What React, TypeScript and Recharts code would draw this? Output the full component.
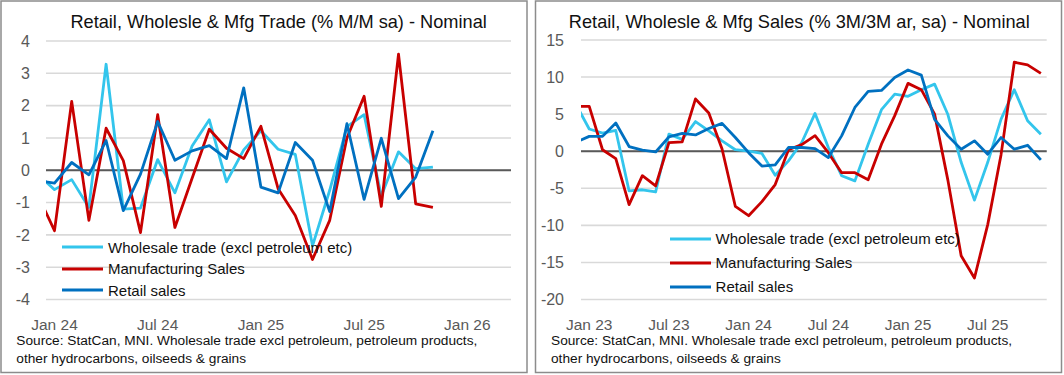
import React from 'react';
import { LineChart, Line, XAxis, YAxis, CartesianGrid, ReferenceLine, Legend } from 'recharts';

// % M/M sa, Dec 23 (clipped) .. Nov 25
const mmMonths = [
  'Dec 23', 'Jan 24', 'Feb 24', 'Mar 24', 'Apr 24', 'May 24', 'Jun 24', 'Jul 24', 'Aug 24', 'Sep 24', 'Oct 24', 'Nov 24',
  'Dec 24', 'Jan 25', 'Feb 25', 'Mar 25', 'Apr 25', 'May 25', 'Jun 25', 'Jul 25', 'Aug 25', 'Sep 25', 'Oct 25', 'Nov 25',
];
const mmWholesale = [-0.12, -0.6, -0.29, -1.15, 3.28, -1.2, -1.17, 0.33, -0.7, 0.75, 1.56, -0.36, 0.63, 1.22, 0.65, 0.49, -2.34, -0.62, 1.35, 1.72, -0.8, 0.57, 0.05, 0.1];
const mmMfg = [-0.73, -1.87, 2.13, -1.55, 1.3, 0.3, -1.93, 1.72, -1.77, -0.25, 1.27, 0.68, 0.36, 1.36, -0.57, -1.4, -2.76, -1.55, 1.0, 2.29, -1.12, 3.59, -1.04, -1.15];
const mmRetail = [-0.32, -0.4, 0.24, -0.14, 0.92, -1.25, -0.12, 1.51, 0.31, 0.6, 0.76, 0.36, 2.55, -0.52, -0.7, 0.86, 0.31, -1.28, 1.44, -0.9, 0.99, -0.88, -0.21, 1.22];
const mmXTicks = [0, 6, 12, 18, 24];
const mmXLabels = ['Jan 24', 'Jul 24', 'Jan 25', 'Jul 25', 'Jan 26'];
const mmYTicks = [-4, -3, -2, -1, 0, 1, 2, 3, 4];

// % 3M/3M ar, sa, Dec 22 (clipped) .. Nov 25
const arMonths = [
  'Dec 22', 'Jan 23', 'Feb 23', 'Mar 23', 'Apr 23', 'May 23', 'Jun 23', 'Jul 23', 'Aug 23', 'Sep 23', 'Oct 23', 'Nov 23',
  'Dec 23', 'Jan 24', 'Feb 24', 'Mar 24', 'Apr 24', 'May 24', 'Jun 24', 'Jul 24', 'Aug 24', 'Sep 24', 'Oct 24', 'Nov 24',
  'Dec 24', 'Jan 25', 'Feb 25', 'Mar 25', 'Apr 25', 'May 25', 'Jun 25', 'Jul 25', 'Aug 25', 'Sep 25', 'Oct 25', 'Nov 25',
];
const arWholesale = [6.3, 3.0, 2.45, 2.8, -5.36, -5.2, -5.5, 2.3, 1.6, 4.0, 2.75, 1.4, 0.2, 0.0, -0.3, -3.25, -1.3, 1.17, 5.1, 0.5, -3.3, -4.0, 0.95, 5.6, 7.7, 7.4, 8.3, 9.05, 4.95, -1.5, -6.6, -1.5, 4.3, 8.3, 4.1, 2.3];
const arMfg = [6.04, 6.04, 0.2, -1.0, -7.2, -3.3, -4.68, 1.17, 1.26, 7.05, 5.15, 0.3, -7.45, -8.7, -6.8, -4.5, 0.2, 0.9, 2.1, -0.2, -2.9, -2.9, -3.85, 0.95, 4.8, 9.15, 8.3, 5.0, -3.9, -14.1, -17.1, -9.9, -0.5, 12.0, 11.65, 10.5];
const arRetail = [1.2, 2.0, 2.0, 3.8, 0.63, 0.14, -0.1, 1.94, 2.4, 2.2, 3.06, 3.75, 1.85, -0.2, -2.0, -1.85, 0.5, 0.5, 0.36, -0.86, 2.07, 5.9, 8.06, 8.2, 9.95, 10.95, 10.27, 4.3, 2.07, 0.27, 1.4, -0.4, 1.85, 0.27, 0.8, -1.17];
const arXTicks = [0, 6, 12, 18, 24, 30];
const arXLabels = ['Jan 23', 'Jul 23', 'Jan 24', 'Jul 24', 'Jan 25', 'Jul 25'];
const arYTicks = [-20, -15, -10, -5, 0, 5, 10, 15];

const seriesNames = ['Wholesale trade (excl petroleum etc)', 'Manufacturing Sales', 'Retail sales'];

const FONT = '"Liberation Sans", Arial, sans-serif';
const C_WHOLESALE = '#33C5EC';
const C_MFG = '#C80000';
const C_RETAIL = '#0070C0';
const SOURCE_1 = 'Source: StatCan, MNI. Wholesale trade excl petroleum, petroleum products,';
const SOURCE_2 = 'other hydrocarbons, oilseeds & grains';

const buildRows = (months: string[], w: number[], m: number[], r: number[]) =>
  months.map((month, k) => ({ month, t: k - 1, wholesale: w[k], mfg: m[k], retail: r[k] }));

const mmData = buildRows(mmMonths, mmWholesale, mmMfg, mmRetail);
const arData = buildRows(arMonths, arWholesale, arMfg, arRetail);

const LegendBox = ({ payload, rowH }: any) => {
  // keep series order, not the alphabetical one
  const items = [...(payload || [])].sort((a: any, b: any) => seriesNames.indexOf(a.value) - seriesNames.indexOf(b.value));
  return (
    <div style={{ fontFamily: FONT }}>
      {items.map((p: any) => (
        <div key={p.value} style={{ display: 'flex', alignItems: 'center', height: rowH }}>
          <svg width={41} height={4} style={{ display: 'block' }}>
            <line x1={0} x2={41} y1={2} y2={2} stroke={p.color} strokeWidth={3.2} />
          </svg>
          <span style={{ marginLeft: 5, fontSize: 15, color: '#111', whiteSpace: 'nowrap' }}>{p.value}</span>
        </div>
      ))}
    </div>
  );
};

interface PanelProps {
  data: any[];
  xDomain: [number, number];
  xTicks: number[];
  xLabels: string[];
  yDomain: [number, number];
  yTicks: number[];
  margin: { top: number; right: number; bottom: number; left: number };
  yTickMargin: number;
  legendLeft: number;
  legendTop: number;
  rowH: number;
}

const Panel = ({ data, xDomain, xTicks, xLabels, yDomain, yTicks, margin, yTickMargin, legendLeft, legendTop, rowH }: PanelProps) => (
  <LineChart width={530} height={375} data={data} margin={margin}>
    <CartesianGrid vertical={false} stroke="#d9d9d9" strokeWidth={1.6} />
    <XAxis
      type="number"
      dataKey="t"
      domain={xDomain}
      allowDataOverflow
      ticks={xTicks}
      tickFormatter={(v: number) => xLabels[xTicks.indexOf(v)] ?? ''}
      axisLine={false}
      tickLine={false}
      height={30}
      tickMargin={13}
      interval={0}
      tick={{ fill: '#595959', fontSize: 15.5, fontFamily: FONT }}
    />
    <YAxis
      domain={yDomain}
      ticks={yTicks}
      allowDataOverflow
      axisLine={false}
      tickLine={false}
      width={36}
      tickMargin={yTickMargin}
      interval={0}
      tick={{ fill: '#595959', fontSize: 16, fontFamily: FONT }}
    />
    <ReferenceLine y={0} stroke="#595959" strokeWidth={2} />
    <Legend
      layout="vertical"
      align="center"
      verticalAlign="middle"
      wrapperStyle={{ left: legendLeft, top: legendTop, width: 'auto' }}
      content={(props: any) => <LegendBox payload={props.payload} rowH={rowH} />}
    />
    <Line name={seriesNames[0]} dataKey="wholesale" stroke={C_WHOLESALE} strokeWidth={2.8} dot={false} strokeLinejoin="round" isAnimationActive={false} />
    <Line name={seriesNames[1]} dataKey="mfg" stroke={C_MFG} strokeWidth={2.8} dot={false} strokeLinejoin="round" isAnimationActive={false} />
    <Line name={seriesNames[2]} dataKey="retail" stroke={C_RETAIL} strokeWidth={2.8} dot={false} strokeLinejoin="round" isAnimationActive={false} />
  </LineChart>
);

export default function App() {
  return (
    <div style={{ position: 'absolute', left: 0, top: 0, width: 1064, height: 375, background: '#fff', fontFamily: FONT }}>
      <svg width={1064} height={375} style={{ position: 'absolute', left: 0, top: 0 }}>
        <rect x={1} y={1} width={526} height={371.5} fill="none" stroke="#8c8c8c" strokeWidth={1.5} />
        <rect x={535.5} y={1} width={526} height={371.5} fill="none" stroke="#8c8c8c" strokeWidth={1.5} />
        <text x={278.6} y={28} textAnchor="middle" fontSize={18.2} fill="#111">Retail, Wholesle &amp; Mfg Trade (% M/M sa) - Nominal</text>
        <text x={799.3} y={28} textAnchor="middle" fontSize={18.2} fill="#111">Retail, Wholesle &amp; Mfg Sales (% 3M/3M ar, sa) - Nominal</text>
        <text x={16.3} y={345} fontSize={13.7} fill="#111">{SOURCE_1}</text>
        <text x={16.3} y={363} fontSize={13.7} fill="#111">{SOURCE_2}</text>
        <text x={551} y={345} fontSize={13.7} fill="#111">{SOURCE_1}</text>
        <text x={551} y={363} fontSize={13.7} fill="#111">{SOURCE_2}</text>
      </svg>
      <div style={{ position: 'absolute', left: 0, top: 0 }}>
        <Panel
          data={mmData}
          xDomain={[-0.494, 26.54]}
          xTicks={mmXTicks}
          xLabels={mmXLabels}
          yDomain={[-4, 4]}
          yTicks={mmYTicks}
          margin={{ top: 41, right: 19, bottom: 45.5, left: 10 }}
          yTickMargin={10}
          legendLeft={62}
          legendTop={236.3}
          rowH={21.6}
        />
      </div>
      <div style={{ position: 'absolute', left: 534, top: 0 }}>
        <Panel
          data={arData}
          xDomain={[-0.62, 34.44]}
          xTicks={arXTicks}
          xLabels={arXLabels}
          yDomain={[-20, 15]}
          yTicks={arYTicks}
          margin={{ top: 40, right: 17.3, bottom: 45.5, left: 11 }}
          yTickMargin={11}
          legendLeft={135.6}
          legendTop={226.7}
          rowH={24.1}
        />
      </div>
    </div>
  );
}
